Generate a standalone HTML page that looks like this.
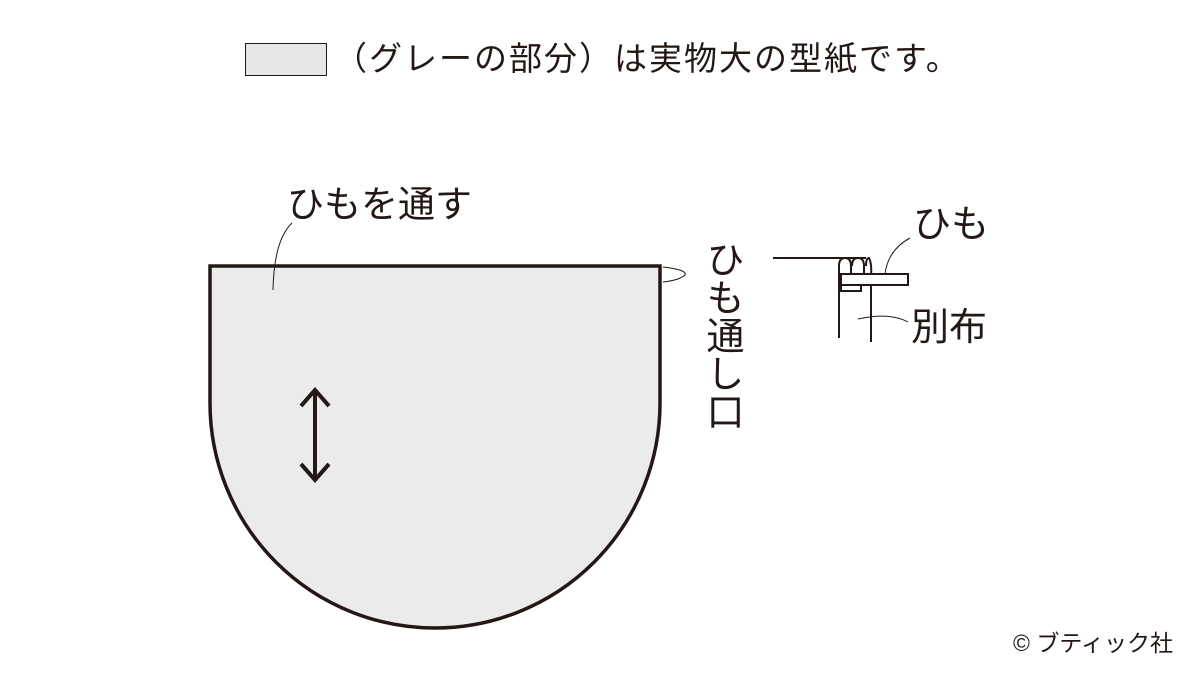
<!DOCTYPE html>
<html><head><meta charset="utf-8"><style>
body{margin:0;background:#fff;width:1200px;height:675px;overflow:hidden;position:relative;font-family:"Liberation Sans","Noto Sans CJK JP",sans-serif;color:#231815}
.t{position:absolute;white-space:nowrap;line-height:1}
</style></head><body>
<div style="position:absolute;left:245px;top:43px;width:80px;height:31px;background:#e6e6e6;border:1.5px solid #231815"></div>
<div class="t" style="left:334px;top:42px;font-size:33px;letter-spacing:2px">（グレーの部分）は実物大の型紙です。</div>
<div class="t" style="left:287px;top:186px;font-size:37px">ひもを通す</div>
<div class="t" style="left:701px;top:240px;font-size:38px;width:40px;writing-mode:vertical-rl;line-height:40px">ひも通し口</div>
<div class="t" style="left:913px;top:206px;font-size:38px">ひも</div>
<div class="t" style="left:911px;top:309px;font-size:38px">別布</div>
<div class="t" style="left:1013px;top:632px;font-size:23px">© ブティック社</div>
<svg width="1200" height="675" style="position:absolute;left:0;top:0" fill="none" stroke="#231815">
<path d="M210 266 H660 V403 A225 225 0 0 1 210 403 Z" fill="#ebebeb" stroke-width="3.5"/>
<path d="M292 223 Q274 240 273 290" stroke-width="1"/>
<path d="M663 267 Q688 270 685 275 Q680 280 663 282" stroke-width="1"/>
<path d="M315 392 V478 M301 406 L315 390 L329 406 M301 464 L315 480 L329 464" stroke-width="4"/>
<path d="M773 258 H866" stroke-width="2"/>
<path d="M839 338 V266 Q839 258 845 258 Q851 258 851 266 V276 M852 266 Q852 258 858 258 Q864 258 864 266 V276 M866 266 Q866 258 869 258 Q872 264 871 276" stroke-width="2"/>
<rect x="841" y="274" width="67" height="11" stroke-width="2" fill="#fff"/>
<rect x="841" y="285" width="20" height="6" stroke-width="2"/>
<path d="M871 285 V342" stroke-width="2"/>
<path d="M885 274 Q888 250 910 238" stroke-width="1"/>
<path d="M858 319 Q890 312 908 322" stroke-width="1"/>
</svg>
</body></html>
